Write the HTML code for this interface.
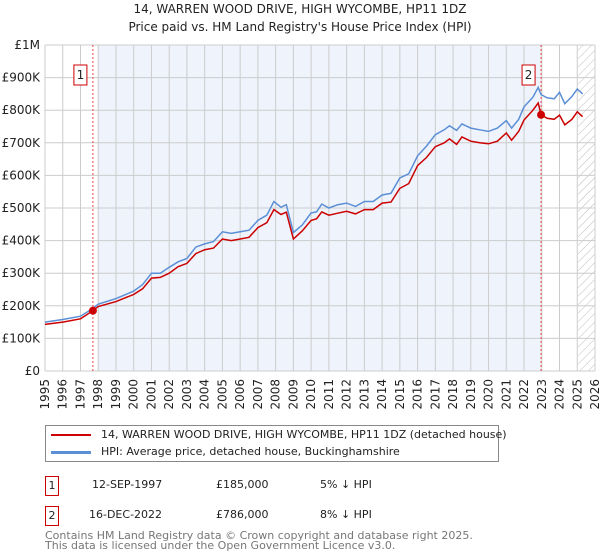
<!DOCTYPE html>
<html><head><meta charset="utf-8"><style>
body{margin:0;width:600px;height:560px;background:#fff;font-family:"DejaVu Sans","Liberation Sans",sans-serif;overflow:hidden}
svg{position:absolute;left:0;top:0}
</style></head><body>
<svg id="c" width="600" height="560" xmlns="http://www.w3.org/2000/svg" style="font-family:'DejaVu Sans','Liberation Sans',sans-serif"></svg>
<script>
const dates=[1995.0,1996.0,1997.0,1997.7,1998.0,1999.0,2000.0,2000.5,2001.0,2001.5,2002.0,2002.5,2003.0,2003.5,2004.0,2004.5,2005.0,2005.5,2006.0,2006.5,2007.0,2007.5,2007.9,2008.3,2008.6,2009.0,2009.5,2010.0,2010.3,2010.6,2011.0,2011.5,2012.0,2012.5,2013.0,2013.5,2014.0,2014.5,2015.0,2015.5,2016.0,2016.5,2017.0,2017.5,2017.8,2018.2,2018.5,2019.0,2019.5,2020.0,2020.5,2021.0,2021.3,2021.7,2022.0,2022.5,2022.8,2022.96,2023.3,2023.7,2024.0,2024.3,2024.7,2025.0,2025.3];
const hpi=[150,158,168,192,205,222,245,265,300,300,318,335,345,380,390,397,427,422,427,432,462,478,520,502,510,425,448,485,488,512,500,510,515,505,520,520,540,545,592,605,660,690,725,740,752,738,758,745,740,735,745,768,745,772,810,840,870,848,838,835,855,820,842,865,850];
const paid=[143,150,160,185,198,213,235,252,285,287,300,320,330,360,372,377,405,400,405,410,440,455,495,480,487,405,430,462,467,488,478,484,490,482,495,495,515,518,560,575,630,655,688,700,712,695,718,705,700,697,705,730,708,735,770,800,822,786,775,772,785,755,772,795,780];
const yTicks=[0,100,200,300,400,500,600,700,800,900,1000];
const yLabels=["£0","£100K","£200K","£300K","£400K","£500K","£600K","£700K","£800K","£900K","£1M"];
const years=[1995,1996,1997,1998,1999,2000,2001,2002,2003,2004,2005,2006,2007,2008,2009,2010,2011,2012,2013,2014,2015,2016,2017,2018,2019,2020,2021,2022,2023,2024,2025,2026];
const sales=[{n:"1",t:1997.7,v:185},{n:"2",t:2022.96,v:786}];
const X0=45,X1=595,Y0=371,Y1=45;
const x=t=>X0+(t-1995)/31*(X1-X0);
const y=v=>Y0-v/1000*(Y0-Y1);
const S=document.getElementById('c');const NS="http://www.w3.org/2000/svg";
function mk(tag,attrs,text){const e=document.createElementNS(NS,tag);for(const k in attrs)e.setAttribute(k,attrs[k]);if(text!==undefined)e.textContent=text;S.appendChild(e);return e;}
let e;
e=mk('text',{x:300,y:13,'text-anchor':'middle','font-size':12,fill:'#222'},'14, WARREN WOOD DRIVE, HIGH WYCOMBE, HP11 1DZ');


e=mk('text',{x:300,y:31,'text-anchor':'middle','font-size':12,fill:'#222'},"Price paid vs. HM Land Registry's House Price Index (HPI)");


e=mk('rect',{x:x(1998.0),y:Y1,width:x(sales[1].t)-x(1998.0),height:Y0-Y1,fill:'#eef3fc'});


const defs=mk('defs',{});
defs.innerHTML='<pattern id="h" width="6" height="6" patternUnits="userSpaceOnUse" patternTransform="rotate(45)"><line x1="0" y1="0" x2="0" y2="6" stroke="#bbb" stroke-width="1"/></pattern>';
e=mk('rect',{x:x(2025.05),y:Y1,width:X1-x(2025.05),height:Y0-Y1,fill:'url(#h)'});


years.forEach(yr=>{e=mk('line',{x1:x(yr),x2:x(yr),y1:Y1,y2:Y0,stroke:'#ccc','stroke-width':1});


e=mk('text',{transform:`translate(${x(yr)+4},${Y0+8}) rotate(-90)`,'text-anchor':'end','font-size':12,fill:'#222'},String(yr));

});
yTicks.forEach((v,i)=>{e=mk('line',{x1:X0,x2:X1,y1:y(v),y2:y(v),stroke:'#ccc','stroke-width':1});


e=mk('text',{x:X0-5,y:y(v)+4,'text-anchor':'end','font-size':12,fill:'#222'},yLabels[i]);

});
sales.forEach(s=>{e=mk('line',{x1:x(s.t),x2:x(s.t),y1:Y1,y2:Y0,stroke:'#e44','stroke-width':1,'stroke-dasharray':'2,2'});

});
function path(vals){return vals.map((v,i)=>(i?'L':'M')+x(dates[i]).toFixed(1)+','+y(v).toFixed(1)).join('');}
e=mk('path',{d:path(hpi),fill:'none',stroke:'#5b8fd6','stroke-width':1.5});


e=mk('path',{d:path(paid),fill:'none',stroke:'#cc0000','stroke-width':1.5});


sales.forEach(s=>{e=mk('circle',{cx:x(s.t),cy:y(s.v),r:4,fill:'#cc0000'});


e=mk('rect',{x:x(s.t)-19,y:65,width:13,height:20,fill:'#fff',stroke:'#cc0000'});


e=mk('text',{x:x(s.t)-12.5,y:79,'text-anchor':'middle','font-size':12,fill:'#222'},s.n);

});
</script>
<div style="position:absolute;left:45px;top:425px;width:452px;height:35px;border:1px solid #888;font-size:11px;color:#222">
 <div style="position:absolute;left:5px;top:2px;white-space:nowrap"><span style="display:inline-block;width:40px;height:2px;background:#cc0000;vertical-align:middle;margin-right:10px"></span>14, WARREN WOOD DRIVE, HIGH WYCOMBE, HP11 1DZ (detached house)</div>
 <div style="position:absolute;left:5px;top:19px;white-space:nowrap"><span style="display:inline-block;width:40px;height:3px;background:#5b8fd6;vertical-align:middle;margin-right:10px"></span>HPI: Average price, detached house, Buckinghamshire</div>
</div>
<div style="position:absolute;left:45px;top:476px;font-size:11px;color:#222">
 <div style="position:absolute;top:0;white-space:nowrap">
  <span style="position:absolute;left:0;top:0;width:12px;height:18px;border:1px solid #cc0000;text-align:center;line-height:18px">1</span>
  <span style="position:absolute;left:47px;top:2px">12-SEP-1997</span>
  <span style="position:absolute;left:171px;top:2px">£185,000</span>
  <span style="position:absolute;left:275px;top:2px">5%&nbsp;↓&nbsp;HPI</span></div>
 <div style="position:absolute;top:30px;white-space:nowrap">
  <span style="position:absolute;left:0;top:0;width:12px;height:18px;border:1px solid #cc0000;text-align:center;line-height:18px">2</span>
  <span style="position:absolute;left:44px;top:2px">16-DEC-2022</span>
  <span style="position:absolute;left:171px;top:2px">£786,000</span>
  <span style="position:absolute;left:275px;top:2px">8%&nbsp;↓&nbsp;HPI</span></div>
</div>
<div style="position:absolute;left:45px;top:531px;font-size:11px;line-height:10px;color:#777;white-space:nowrap">Contains HM Land Registry data © Crown copyright and database right 2025.<br>This data is licensed under the Open Government Licence v3.0.</div>
</body></html>
